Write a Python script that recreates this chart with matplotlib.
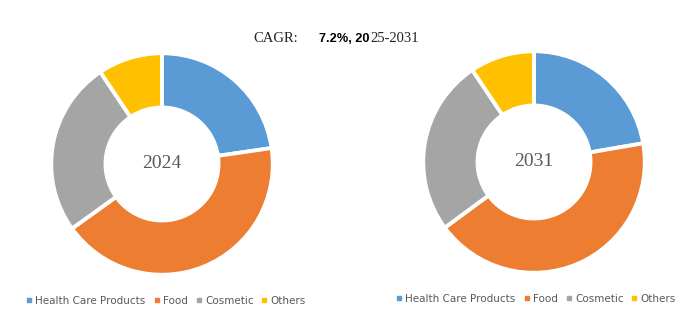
import matplotlib.pyplot as plt
from matplotlib.lines import Line2D

# market share by segment (%)
segments = ['Health Care Products', 'Food', 'Cosmetic', 'Others']
share_2024 = [22.7, 42.4, 25.5, 9.4]
share_2031 = [22.3, 42.6, 25.7, 9.4]
years = ['2024', '2031']
colors = ['#5B9BD5', '#ED7D31', '#A5A5A5', '#FFC000']

W, H = 698, 323
fig = plt.figure(figsize=(W / 100, H / 100), dpi=100)
fig.patch.set_facecolor('white')


def donut(left_px, top_px, size_px, values, year):
    ax = fig.add_axes([left_px / W, 1 - (top_px + size_px) / H, size_px / W, size_px / H])
    ax.pie(values, colors=colors, startangle=90, counterclock=False, radius=1.0,
           wedgeprops=dict(width=0.49, edgecolor='white', linewidth=2.8))
    ax.set_xlim(-1.02, 1.02)
    ax.set_ylim(-1.02, 1.02)
    ax.set_aspect('equal')
    ax.axis('off')
    ax.text(0, 0, year, ha='center', va='center', fontsize=14,
            family='Liberation Serif', color='#595959')
    return ax


donut(49, 51, 226, share_2024, years[0])
donut(421, 49, 226, share_2031, years[1])

# CAGR header
fig.text(253 / W, 1 - 39 / H, 'CAGR:', ha='left', va='center', fontsize=10.5,
         family='Liberation Serif', color='#222222')
fig.text(369 / W, 1 - 39 / H, '7.2%, 20', ha='right', va='center', fontsize=9.2,
         family='Liberation Sans', weight='bold', color='black')
fig.text(370 / W, 1 - 39 / H, '25-2031', ha='left', va='center', fontsize=10.5,
         family='Liberation Serif', color='#222222')

handles = [Line2D([], [], marker='s', linestyle='none', markersize=3.5,
                  markerfacecolor=c, markeredgecolor=c) for c in colors]
for x0, y0 in [(26, 301), (396, 299)]:
    fig.legend(handles, segments, loc='center left',
               bbox_to_anchor=(x0 / W, 1 - y0 / H), ncol=4, frameon=False,
               handlelength=0.6, handletextpad=0.3,
               columnspacing=0.75, borderpad=0, borderaxespad=0,
               labelcolor='#595959', prop={'family': 'DejaVu Sans', 'size': 7.5})

fig.savefig('out.png', dpi=100, facecolor='white')
